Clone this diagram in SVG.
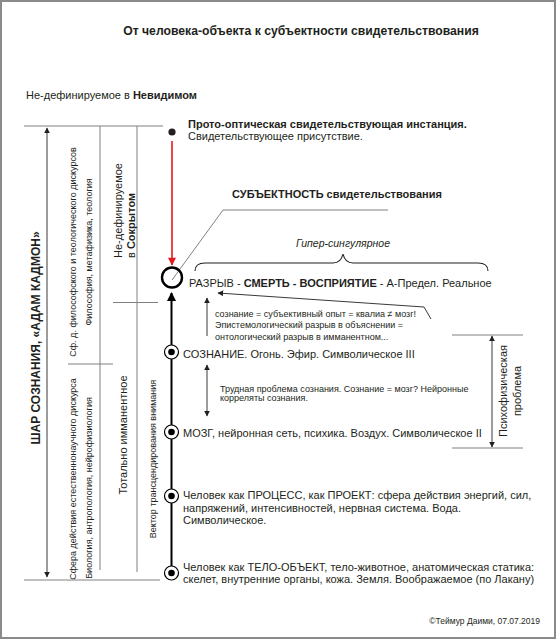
<svg xmlns="http://www.w3.org/2000/svg" width="557" height="640" viewBox="0 0 557 640">
<style>
text{font-family:"Liberation Sans",Arial,sans-serif;fill:#231f20}
.b{font-weight:bold}
.t11{font-size:11px}
.t9{font-size:9px}
.thin{stroke:#808080;stroke-width:1;fill:none}
.dk{stroke:#3a3a3a;stroke-width:1;fill:none}
</style>
<defs>
<marker id="ah" viewBox="0 0 10 10" refX="9" refY="5" markerWidth="6" markerHeight="7" markerUnits="userSpaceOnUse" orient="auto-start-reverse"><path d="M0,0 L10,5 L0,10 z" fill="#231f20"/></marker>
<marker id="ahb" viewBox="0 0 10 10" refX="9" refY="5" markerWidth="11" markerHeight="9" markerUnits="userSpaceOnUse" orient="auto"><path d="M0,0 L10,5 L0,10 z" fill="#000"/></marker>
<marker id="ahr" viewBox="0 0 10 10" refX="9" refY="5" markerWidth="11" markerHeight="8" markerUnits="userSpaceOnUse" orient="auto"><path d="M0,0 L10,5 L0,10 z" fill="#e3191f"/></marker>
</defs>
<rect x="1" y="1" width="554" height="637" fill="#fff" stroke="#8a8a8a" stroke-width="2"/>

<text id="title" class="b" x="301" y="34.5" text-anchor="middle" font-size="12.2">От человека-объекта к субъектности свидетельствования</text>
<text id="nevidimoe" class="t11" x="26" y="99">Не-дефинируемое в <tspan class="b">Невидимом</tspan></text>

<g id="frame-lines">
<line class="thin" x1="24" y1="126" x2="163" y2="126"/>
<line class="thin" x1="24" y1="580" x2="160" y2="580"/>
<line class="thin" x1="100" y1="126" x2="100" y2="570"/>
<line class="thin" x1="137" y1="126" x2="137" y2="572"/>
<line class="thin" x1="113" y1="302.5" x2="158" y2="302.5"/>
<line class="thin" x1="68" y1="364" x2="113" y2="364"/>
</g>

<g id="connectors">
<line class="dk" x1="47" y1="128" x2="47" y2="577" marker-start="url(#ah)" marker-end="url(#ah)"/>
<line x1="171.5" y1="573" x2="171.5" y2="293" stroke="#000" stroke-width="2" marker-end="url(#ahb)"/>
<line x1="172" y1="141" x2="172" y2="265" stroke="#e3191f" stroke-width="1.6" marker-end="url(#ahr)"/>
<polyline class="thin" points="172,280 223,210 388,210"/>
<path d="M195,271 Q195,263 205,263 L333,263 Q341,263 343,254 Q345,263 353,263 L478,263 Q488,263 488,271" stroke="#231f20" stroke-width="1.1" fill="none"/>
<polyline class="dk" points="431,319 424,307 218,293" marker-end="url(#ah)"/>
<line class="dk" x1="207" y1="336" x2="207" y2="298" marker-end="url(#ah)"/>
<line class="dk" x1="207" y1="365" x2="207" y2="416" marker-start="url(#ah)" marker-end="url(#ah)"/>
<line class="thin" x1="452" y1="335" x2="523" y2="335"/>
<line class="thin" x1="452" y1="448" x2="523" y2="448"/>
<line class="dk" x1="492" y1="336" x2="492" y2="447" marker-start="url(#ah)" marker-end="url(#ah)"/>
</g>

<g id="left-labels">
<text class="b" transform="translate(40,338) rotate(-90)" text-anchor="middle" font-size="12">ШАР СОЗНАНИЯ, «АДАМ КАДМОН»</text>
<text class="t9" transform="translate(75.5,252) rotate(-90)" text-anchor="middle">Сф. д. философского и теологического дискурсов</text>
<text class="t9" transform="translate(91.5,252) rotate(-90)" text-anchor="middle">Философия, метафизика, теология</text>
<text class="t9" transform="translate(75.5,479) rotate(-90)" text-anchor="middle">Сфера действия естественнонаучного дискурса</text>
<text class="t9" transform="translate(91.5,488) rotate(-90)" text-anchor="middle">Биология, антропология, нейрофизиология</text>
<text class="t11" transform="translate(122,258) rotate(-90)">Не-дефинируемое</text>
<text class="t11" transform="translate(135,258) rotate(-90)">в <tspan class="b">Сокрытом</tspan></text>
<text class="t11" transform="translate(127,435) rotate(-90)" text-anchor="middle">Тотально имманентное</text>
<text class="t9" transform="translate(155.5,459) rotate(-90)" text-anchor="middle">Вектор трансцендирования внимания</text>
</g>

<g id="n-proto">
<circle cx="172" cy="132" r="3.6" fill="#231f20"/>
<text class="t11 b" x="188" y="128">Прото-оптическая свидетельствующая инстанция.</text>
<text class="t11" x="188" y="139.5">Свидетельствующее присутствие.</text>
</g>

<g id="n-subj">
<text class="t11 b" x="232" y="198">СУБЪЕКТНОСТЬ свидетельствования</text>
<text x="343" y="247" text-anchor="middle" font-size="10.5" font-style="italic">Гипер-сингулярное</text>
</g>

<g id="n-razryv">
<circle cx="172" cy="277.5" r="10" fill="none" stroke="#000" stroke-width="2.4"/>
<text class="t11" x="189" y="286.5">РАЗРЫВ - <tspan class="b">СМЕРТЬ - ВОСПРИЯТИЕ</tspan> - А-Предел. Реальное</text>
</g>

<g id="n-gap-note">
<text class="t9" x="215" y="317">сознание = субъективный опыт = квалиа ≠ мозг!</text>
<text class="t9" x="215" y="328">Эпистемологический разрыв в объяснении =</text>
<text class="t9" x="215" y="340">онтологический разрыв в имманентном...</text>
</g>

<g id="n-soznanie">
<circle cx="171.5" cy="352" r="7" fill="#fff" stroke="#000" stroke-width="1.2"/>
<circle cx="171.5" cy="352" r="3.3" fill="#000"/>
<text class="t11" x="183" y="358">СОЗНАНИЕ. Огонь. Эфир. Символическое III</text>
</g>

<g id="n-hard">
<text class="t9" x="220" y="391.5">Трудная проблема сознания. Сознание = мозг? Нейронные</text>
<text class="t9" x="220" y="401">корреляты сознания.</text>
</g>

<g id="n-mozg">
<circle cx="171.5" cy="432" r="7" fill="#fff" stroke="#000" stroke-width="1.2"/>
<circle cx="171.5" cy="432" r="3.3" fill="#000"/>
<text class="t11" x="183" y="437">МОЗГ, нейронная сеть, психика. Воздух. Символическое II</text>
</g>

<g id="n-psycho">
<text class="t11" transform="translate(507,391) rotate(-90)" text-anchor="middle">Психофизическая</text>
<text class="t11" transform="translate(521,391) rotate(-90)" text-anchor="middle">проблема</text>
</g>

<g id="n-process">
<circle cx="171.5" cy="496" r="7" fill="#fff" stroke="#000" stroke-width="1.2"/>
<circle cx="171.5" cy="496" r="3.3" fill="#000"/>
<text class="t11" x="183" y="499">Человек как ПРОЦЕСС, как ПРОЕКТ: сфера действия энергий, сил,</text>
<text class="t11" x="183" y="511.5">напряжений, интенсивностей, нервная система. Вода.</text>
<text class="t11" x="183" y="524">Символическое.</text>
</g>

<g id="n-telo">
<circle cx="171.5" cy="573" r="7" fill="#fff" stroke="#000" stroke-width="1.2"/>
<circle cx="171.5" cy="573" r="3.3" fill="#000"/>
<text class="t11" x="183" y="571">Человек как ТЕЛО-ОБЪЕКТ, тело-животное, анатомическая статика:</text>
<text class="t11" x="183" y="583">скелет, внутренние органы, кожа. Земля. Воображаемое (по Лакану)</text>
</g>

<text id="copyright" x="540" y="624" text-anchor="end" font-size="8.5">©Теймур Даими, 07.07.2019</text>
</svg>
